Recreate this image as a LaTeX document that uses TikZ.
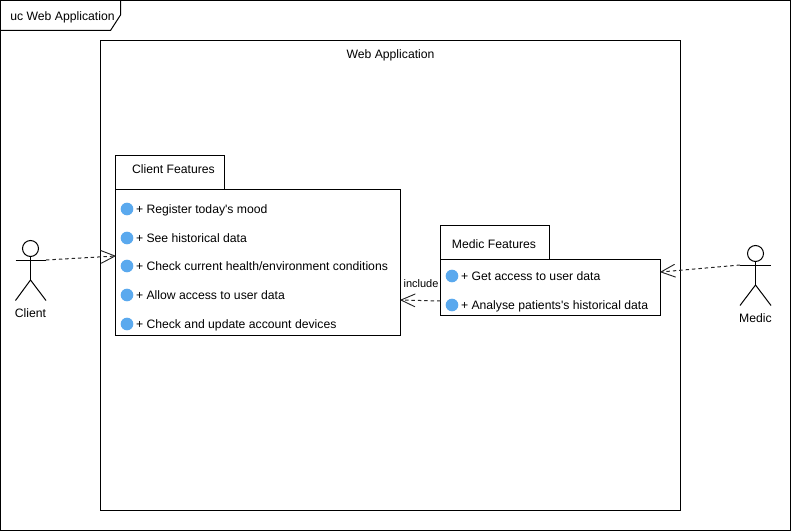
\documentclass[tikz,border=0pt]{standalone}
\usepackage{fontspec}
\setmainfont{Liberation Sans}
\usetikzlibrary{arrows.meta}
\definecolor{bulletblue}{HTML}{5AA9EE}
\tikzset{
  x=0.75pt,y=-0.75pt,
  umlline/.style={draw=black,line width=0.75pt},
  lbl/.style={inner sep=0pt,outer sep=0pt,font=\fontsize{9.15}{11}\selectfont,text=black},
  rowtext/.style={lbl,anchor=base west},
  bullet/.style={circle,fill=bulletblue,draw=none,minimum size=9.5pt,inner sep=0pt,outer sep=0pt},
  actorline/.style={draw=black,line width=0.75pt},
  dep/.style={draw=black!85,line width=0.75pt,dash pattern=on 2.6pt off 2.2pt,
     -{Straight Barb[length=10.5pt,width=9.5pt,line width=0.7pt,round=false]}},
}
\begin{document}
\begin{tikzpicture}
\useasboundingbox (0,0) rectangle (791,531);
% outer frame
\node[umlline,anchor=north west,minimum width=592.5pt,minimum height=397.5pt,inner sep=0pt,outer sep=0pt] (frame) at (0.5,0.5) {};
\draw[umlline] (frame.north west) -- (120.5,0.5) -- (120.5,15) -- (110.5,30.5) -- (0.5,30.5);
\node[lbl] (frametitle) at (62.5,17) {uc Web Application};
% system boundary
\node[umlline,anchor=north west,minimum width=435pt,minimum height=352.5pt,inner sep=0pt,outer sep=0pt] (system) at (100.5,40.5) {};
\node[lbl] (systemtitle) at (390.5,55) {Web Application};
% client package
\node[umlline,anchor=north west,minimum width=81.75pt,minimum height=25.5pt,inner sep=0pt,outer sep=0pt] (clienttab) at (115.5,155.5) {};
\node[lbl] (clienttitle) at (173.5,169) {Client Features};
\node[umlline,anchor=north west,minimum width=213.75pt,minimum height=109.5pt,inner sep=0pt,outer sep=0pt] (clientbody) at (115.5,189.5) {};
\node[bullet] (c1) at (127,209) {};
\node[bullet] (c2) at (127,238) {};
\node[bullet] (c3) at (127,266) {};
\node[bullet] (c4) at (127,295) {};
\node[bullet] (c5) at (127,324) {};
\node[rowtext] (ct1) at (136,213) {+ Register today\textquotesingle s mood};
\node[rowtext] (ct2) at (136,242) {+ See historical data};
\node[rowtext] (ct3) at (136,270) {+ Check current health/environment conditions};
\node[rowtext] (ct4) at (136,299) {+ Allow access to user data};
\node[rowtext] (ct5) at (136,328) {+ Check and update account devices};
% medic package
\node[umlline,anchor=north west,minimum width=81.75pt,minimum height=25.5pt,inner sep=0pt,outer sep=0pt] (medictab) at (440.5,225.5) {};
\node[lbl] (medictitle) at (494,244) {Medic Features};
\node[umlline,anchor=north west,minimum width=165pt,minimum height=42pt,inner sep=0pt,outer sep=0pt] (medicbody) at (440.5,259.5) {};
\node[bullet] (m1) at (452,276) {};
\node[bullet] (m2) at (452,305) {};
\node[rowtext] (mt1) at (461,280) {+ Get access to user data};
\node[rowtext] (mt2) at (461,309) {+ Analyse patients\textquotesingle s historical data};
% client actor
\node[circle,actorline,minimum size=12pt,inner sep=0pt,outer sep=0pt] (clienthead) at (30.5,248.5) {};
\coordinate (clienthip) at (30.5,280);
\coordinate (clientarmL) at (15.5,260);
\coordinate (clientarmR) at (46,260);
\coordinate (clientfootL) at (15.5,300.5);
\coordinate (clientfootR) at (46,300.5);
\draw[actorline] (clienthead.south) -- (clienthip);
\draw[actorline] (clientarmL) -- (clientarmR);
\draw[actorline] (clientfootL) -- (clienthip) -- (clientfootR);
\node[lbl] (clientlabel) at (30.5,313.5) {Client};
% medic actor
\node[circle,actorline,minimum size=12pt,inner sep=0pt,outer sep=0pt] (medichead) at (755.5,253.5) {};
\coordinate (medichip) at (755.5,285);
\coordinate (medicarmL) at (740,265);
\coordinate (medicarmR) at (771,265);
\coordinate (medicfootL) at (740,305.5);
\coordinate (medicfootR) at (771,305.5);
\draw[actorline] (medichead.south) -- (medichip);
\draw[actorline] (medicarmL) -- (medicarmR);
\draw[actorline] (medicfootL) -- (medichip) -- (medicfootR);
\node[lbl] (mediclabel) at (755.5,318.5) {Medic};
% connectors
\draw[dep] (clientarmR) -- ([yshift=4.875pt]clientbody.west);
\draw[dep] (medicarmL) -- ([yshift=11.625pt]medicbody.east);
\draw[dep] ([yshift=-10.125pt]medicbody.west) -- ([yshift=-28.125pt]clientbody.east);
\node[lbl,font=\fontsize{8.25}{10}\selectfont] (includelabel) at (421,284) {include};
\end{tikzpicture}
\end{document}
